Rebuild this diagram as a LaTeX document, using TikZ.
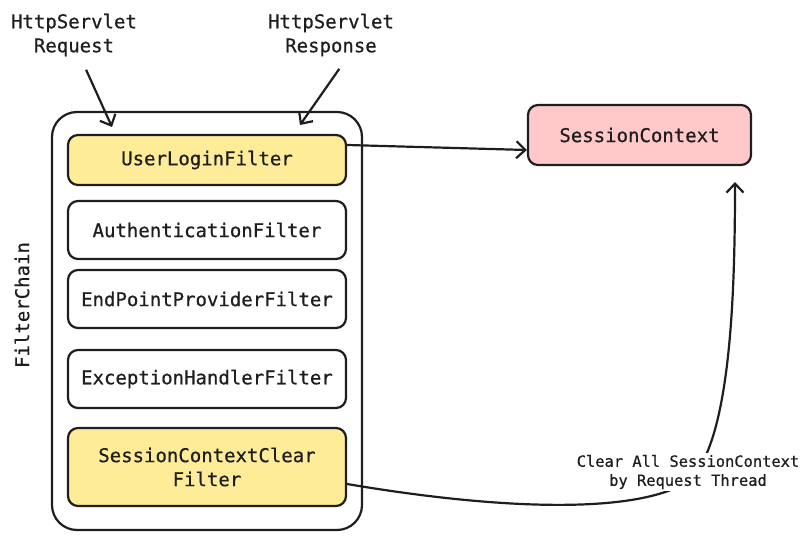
\documentclass[tikz,border=0pt]{standalone}
\usepackage{fontspec}
\newfontfamily\sketchfont[FakeBold=0.6]{DejaVu Sans Mono}
\usetikzlibrary{arrows.meta}
\definecolor{ink}{HTML}{1E1E1E}
\definecolor{yfill}{HTML}{FFEC99}
\definecolor{pfill}{HTML}{FFC9C9}
\tikzset{
  filterbox/.style={draw=ink,line width=2.2pt,rounded corners=10pt,minimum width=278pt,minimum height=58pt,fill=white,font=\sketchfont\fontsize{19}{24}\selectfont,align=center,text=ink},
  label/.style={font=\sketchfont\fontsize{19}{24}\selectfont,align=center,text=ink}
}
\begin{document}
\begin{tikzpicture}[x=1pt,y=-1pt,>={Straight Barb[length=9pt,width=17pt]},line width=2.2pt,draw=ink]
			\useasboundingbox (0,0) rectangle (811,540);
			\node[draw=ink,rounded corners=25pt,minimum width=310pt,minimum height=418pt] (chain) at (207,321) {};
			\node[label,rotate=90] (chainname) at (22,305) {FilterChain};
			\node[filterbox,fill=yfill,minimum height=50pt] (login) at (207,160) {UserLoginFilter};
			\node[filterbox] (auth) at (207,230) {AuthenticationFilter};
			\node[filterbox] (endpoint) at (207,299) {EndPointProviderFilter};
			\node[filterbox] (exception) at (207,379) {ExceptionHandlerFilter};
			\node[filterbox,fill=yfill,minimum height=78pt] (sclear) at (207,467) {SessionContextClear\\Filter};
			\node[filterbox,fill=pfill,minimum width=223pt,minimum height=60pt] (ctx) at (639.5,135) {SessionContext};
			\node[label] (req) at (74,35) {HttpServlet\\Request};
			\node[label] (resp) at (331,35) {HttpServlet\\Response};
			\coordinate (reqin) at (112,127);
			\coordinate (respin) at (300,125);
			\coordinate (ctxin) at (735,182);
			\draw[->,shorten <=10pt] ([xshift=8pt]req.south) -- (reqin);
			\draw[->,shorten <=10pt] ([xshift=14pt]resp.south) -- (respin);
			\draw[->] ([yshift=15pt]login.east) -- ([yshift=-15pt]ctx.west);
			\draw[->] ([yshift=-17pt]sclear.east) .. controls (500,510) and (640,515) .. (690,480) .. controls (730,440) and (735,300) .. (ctxin);
			\node[label,fill=white,inner sep=2pt,font=\sketchfont\fontsize{15.4}{19}\selectfont] (clearnote) at (688,472) {Clear All SessionContext\\by Request Thread};
	\end{tikzpicture}
\end{document}
